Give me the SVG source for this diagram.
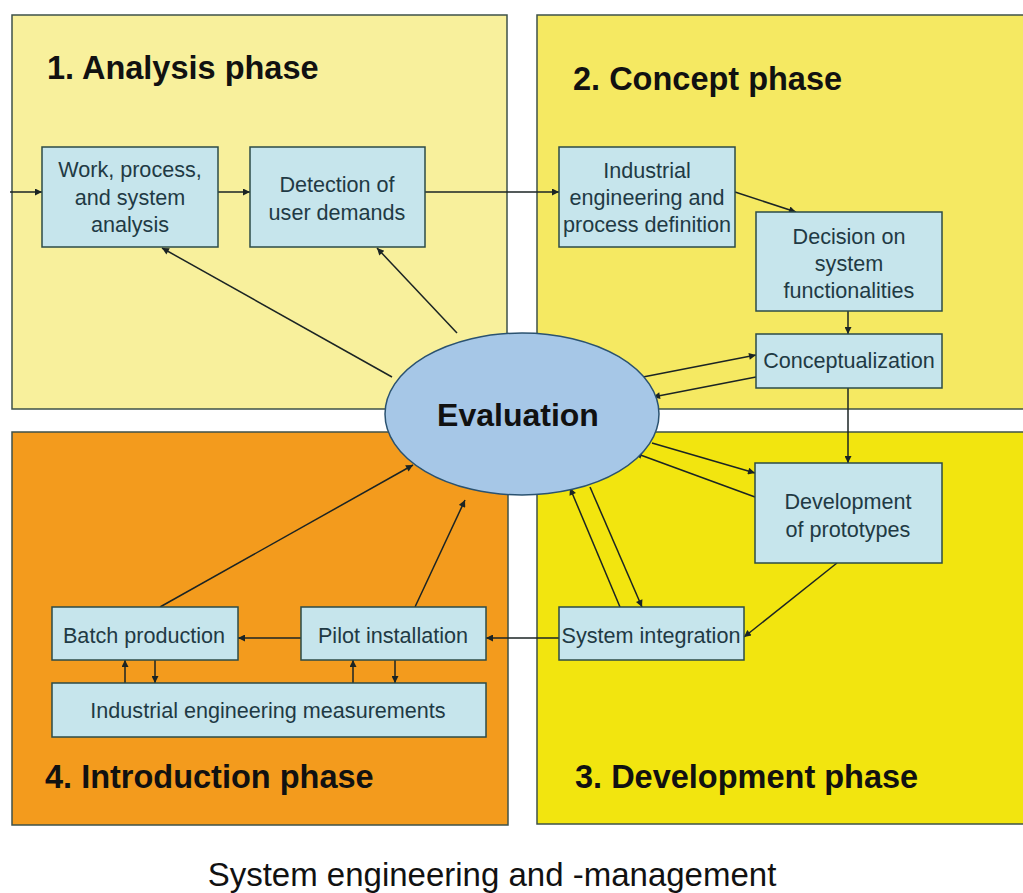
<svg xmlns="http://www.w3.org/2000/svg" width="1023" height="893" viewBox="0 0 1023 893">
<defs>
<marker id="ah" viewBox="0 0 10 10" refX="10" refY="5" markerWidth="9" markerHeight="7" markerUnits="userSpaceOnUse" orient="auto">
<path d="M0,0 L10,5 L0,10 z" fill="#1b2424"/>
</marker>
<style>
.quad{stroke:#3e5249;stroke-width:1.5}
.box{fill:#c6e5ec;stroke:#2c4b47;stroke-width:1.5}
.bt{font-family:"Liberation Sans",Arial,sans-serif;font-size:21.6px;fill:#1f3a44;text-anchor:middle}
.ph{font-family:"Liberation Sans",Arial,sans-serif;font-size:32.5px;font-weight:bold;fill:#111}
.con line{stroke:#1b2424;stroke-width:1.5;marker-end:url(#ah)}
</style>
</defs>
<rect width="1023" height="893" fill="#ffffff"/>
<g id="quadrants">
<rect id="q1" class="quad" x="12" y="15" width="495" height="394" fill="#f8f09c"/>
<rect id="q2" class="quad" x="537" y="15" width="500" height="394" fill="#f5e962"/>
<rect id="q4" class="quad" x="12" y="432" width="496" height="393" fill="#f39b1d"/>
<rect id="q3" class="quad" x="537" y="432" width="500" height="392" fill="#f2e50f"/>
<text class="ph" x="47" y="79">1. Analysis phase</text>
<text class="ph" x="573" y="90">2. Concept phase</text>
<text class="ph" x="575" y="788">3. Development phase</text>
<text class="ph" x="45" y="788">4. Introduction phase</text>
</g>
<g id="connectors" class="con">
<line x1="10" y1="192" x2="42" y2="192"/>
<line x1="218" y1="192" x2="250" y2="192"/>
<line x1="425" y1="192" x2="559" y2="192"/>
<line x1="735" y1="192" x2="796" y2="212"/>
<line x1="848" y1="311" x2="848" y2="334"/>
<line x1="643" y1="377" x2="756" y2="355"/>
<line x1="756" y1="377" x2="653" y2="397"/>
<line x1="848" y1="388" x2="848" y2="463"/>
<line x1="652" y1="443" x2="755" y2="473"/>
<line x1="755" y1="497" x2="635" y2="453"/>
<line x1="837" y1="563" x2="744" y2="637"/>
<line x1="590" y1="487" x2="642" y2="607"/>
<line x1="620" y1="607" x2="570" y2="488"/>
<line x1="559" y1="638" x2="486" y2="638"/>
<line x1="301" y1="638" x2="238" y2="638"/>
<line x1="160" y1="607" x2="413" y2="465"/>
<line x1="415" y1="607" x2="465" y2="500"/>
<line x1="392" y1="377" x2="162" y2="248"/>
<line x1="457" y1="333" x2="377" y2="248"/>
<line x1="125" y1="683" x2="125" y2="660"/>
<line x1="155" y1="660" x2="155" y2="683"/>
<line x1="353" y1="683" x2="353" y2="660"/>
<line x1="395" y1="660" x2="395" y2="683"/>
</g>
<g id="evaluation">
<ellipse cx="522" cy="414" rx="137" ry="81" fill="#a6c7e7" stroke="#2a5270" stroke-width="1.5"/>
<text x="518" y="426" font-family="Liberation Sans, Arial, sans-serif" font-size="32" font-weight="bold" fill="#111" text-anchor="middle">Evaluation</text>
</g>
<g id="work">
<rect class="box" x="42" y="147" width="176" height="100"/>
<text class="bt" x="130" y="177">Work, process,</text>
<text class="bt" x="130" y="205">and system</text>
<text class="bt" x="130" y="232">analysis</text>
</g>
<g id="detection">
<rect class="box" x="250" y="147" width="175" height="100"/>
<text class="bt" x="337" y="192">Detection of</text>
<text class="bt" x="337" y="220">user demands</text>
</g>
<g id="industrial">
<rect class="box" x="559" y="147" width="176" height="100"/>
<text class="bt" x="647" y="178">Industrial</text>
<text class="bt" x="647" y="205">engineering and</text>
<text class="bt" x="647" y="232">process definition</text>
</g>
<g id="decision">
<rect class="box" x="756" y="212" width="186" height="99"/>
<text class="bt" x="849" y="244">Decision on</text>
<text class="bt" x="849" y="271">system</text>
<text class="bt" x="849" y="298">functionalities</text>
</g>
<g id="conceptualization">
<rect class="box" x="756" y="334" width="186" height="54"/>
<text class="bt" x="849" y="368">Conceptualization</text>
</g>
<g id="prototypes">
<rect class="box" x="755" y="463" width="187" height="100"/>
<text class="bt" x="848" y="509">Development</text>
<text class="bt" x="848" y="537">of prototypes</text>
</g>
<g id="integration">
<rect class="box" x="559" y="607" width="185" height="53"/>
<text class="bt" x="651" y="643">System integration</text>
</g>
<g id="pilot">
<rect class="box" x="301" y="607" width="185" height="53"/>
<text class="bt" x="393" y="643">Pilot installation</text>
</g>
<g id="batch">
<rect class="box" x="52" y="607" width="186" height="53"/>
<text class="bt" x="144" y="643">Batch production</text>
</g>
<g id="measurements">
<rect class="box" x="52" y="683" width="434" height="54"/>
<text class="bt" x="268" y="718">Industrial engineering measurements</text>
</g>
<text x="492" y="886" font-family="Liberation Sans, Arial, sans-serif" font-size="33" fill="#111" text-anchor="middle">System engineering and -management</text>
</svg>
